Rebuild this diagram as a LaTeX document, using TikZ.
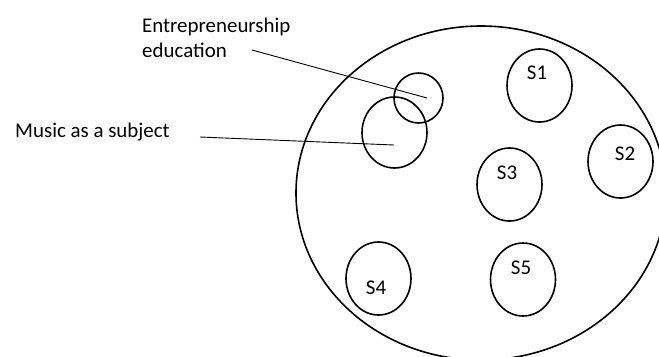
\documentclass[tikz,border=0pt]{standalone}
\usepackage{fontspec}
\setmainfont{Carlito}
\usetikzlibrary{shapes.geometric}
\begin{document}
\begin{tikzpicture}[x=1bp,y=-1bp,
  ring/.style={draw,ellipse,line width=1.6bp,inner sep=0,minimum width=#1},
  lbl/.style={font=\fontsize{21}{25}\selectfont,inner sep=0},
  lead/.style={line width=0.9bp}]
\useasboundingbox (0,0) rectangle (659,356);
\clip (0,0) rectangle (659,356);
% big set
\node[ring=370bp,minimum height=334bp] (big) at (481,193) {};
% small sets
\node[ring=49bp,minimum height=50bp] (ent) at (418.5,98) {};
\node[ring=65bp,minimum height=71bp] (mus) at (394.5,132.5) {};
\node[ring=65bp,minimum height=73bp] (s1) at (539.5,85.5) {};
\node[ring=65bp,minimum height=73bp] (s2) at (620.5,161.5) {};
\node[ring=65bp,minimum height=73bp] (s3) at (509.5,184.5) {};
\node[ring=65bp,minimum height=73bp] (s4) at (378.5,278.5) {};
\node[ring=65bp,minimum height=73bp] (s5) at (523,279.5) {};
% set labels
\node[lbl] (s1t) at (537,73) {S1};
\node[lbl] (s2t) at (625,154) {S2};
\node[lbl] (s3t) at (507,173) {S3};
\node[lbl] (s4t) at (376,288) {S4};
\node[lbl] (s5t) at (521,268) {S5};
% text labels
\node[lbl,anchor=base west,align=left] (entt) at (142,57) {Entrepreneurship\\education};
\node[lbl,anchor=base west] (must) at (15,137) {Music as a subject};
% leaders
\coordinate (entend) at (427,98);
\coordinate (entstart) at (252,50);
\coordinate (musend) at (394,145);
\coordinate (musstart) at (200,137);
\draw[lead] (entstart) -- (entend);
\draw[lead] (musstart) -- (musend);
\end{tikzpicture}
\end{document}
